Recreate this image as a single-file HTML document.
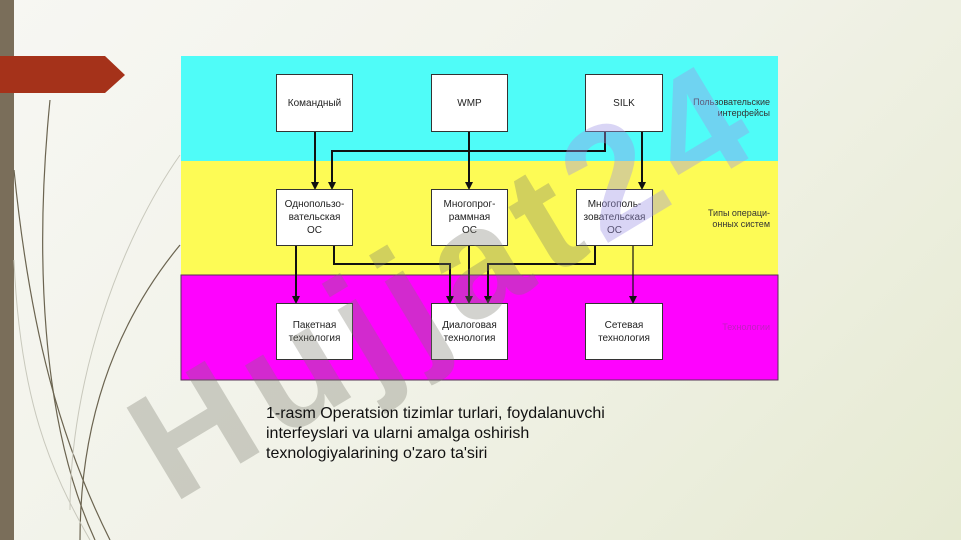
<!DOCTYPE html>
<html style="width:961px;height:540px;overflow:hidden"><head><meta charset="utf-8"><style>
body{margin:0;width:961px;height:540px;overflow:hidden;position:relative;font-family:"Liberation Sans",sans-serif;
background:linear-gradient(135deg,#f7f7f3 0%,#f1f2e8 50%,#e6ead2 100%);}
.b{position:absolute;background:#fff;border:1.5px solid #333;box-sizing:border-box;display:flex;align-items:center;justify-content:center;text-align:center;font-size:10px;line-height:13px;color:#222}
.l{position:absolute;font-size:9px;line-height:11px;text-align:right;color:#333}
</style></head><body>
<div style="position:absolute;left:0;top:0;width:14px;height:540px;background:#7a6e5a"></div>
<svg style="position:absolute;left:0;top:0" width="961" height="540">
<polygon points="0,56 105,56 125,75 105,93 0,93" fill="#a5321a"/>
<g fill="none" stroke="#6b6450" stroke-width="1.2">
<path d="M50,100 C35,250 40,420 95,540"/>
<path d="M14,170 C30,330 60,440 110,540"/>
<path d="M180,245 C110,330 80,430 80,540" />
</g>
<g fill="none" stroke="#c8c8bc" stroke-width="1">
<path d="M180,155 C120,240 70,380 70,510"/>
<path d="M14,260 C20,400 50,470 90,540"/>
</g>
<rect x="181" y="56" width="597" height="105" fill="#4ffcf8"/>
<rect x="181" y="161" width="597" height="114" fill="#fdfb55"/>
<rect x="181" y="275" width="597" height="105" fill="#fe03fe" stroke="#553355" stroke-width="1"/>
<g stroke="#111" stroke-width="2" fill="none">
<path d="M315,132V186"/><path d="M605,132V151H332V186"/><path d="M469,132V186"/><path d="M642,132V186"/>
<path d="M296,245V300"/><path d="M334,245V264H450V300"/><path d="M469,245V300"/><path d="M595,245V264H488V300"/>
<path d="M633,245V300" stroke-width="1.2"/>
</g>
<g fill="#111">
<polygon points="311,182 319,182 315,190"/><polygon points="328,182 336,182 332,190"/><polygon points="465,182 473,182 469,190"/><polygon points="638,182 646,182 642,190"/>
<polygon points="292,296 300,296 296,304"/><polygon points="446,296 454,296 450,304"/><polygon points="465,296 473,296 469,304"/><polygon points="484,296 492,296 488,304"/><polygon points="629,296 637,296 633,304"/>
</g>
</svg>
<div class="b" style="left:276px;top:74px;width:77px;height:58px">Командный</div>
<div class="b" style="left:431px;top:74px;width:77px;height:58px">WMP</div>
<div class="b" style="left:585px;top:74px;width:78px;height:58px">SILK</div>
<div class="b" style="left:276px;top:189px;width:77px;height:57px">Однопользо-<br>вательская<br>ОС</div>
<div class="b" style="left:431px;top:189px;width:77px;height:57px">Многопрог-<br>раммная<br>ОС</div>
<div class="b" style="left:576px;top:189px;width:77px;height:57px">Многополь-<br>зовательская<br>ОС</div>
<div class="b" style="left:276px;top:303px;width:77px;height:57px">Пакетная<br>технология</div>
<div class="b" style="left:431px;top:303px;width:77px;height:57px">Диалоговая<br>технология</div>
<div class="b" style="left:585px;top:303px;width:78px;height:57px">Сетевая<br>технология</div>
<div class="l" style="left:660px;top:97px;width:110px">Пользовательские<br>интерфейсы</div>
<div class="l" style="left:660px;top:208px;width:110px">Типы операци-<br>онных систем</div>
<div class="l" style="left:660px;top:322px;width:110px;color:#c020c0">Технологии</div>
<div style="position:absolute;top:525px;left:185px;font:bold 155px 'Liberation Sans',sans-serif;line-height:1;color:rgba(120,120,110,0.33);transform:rotate(-31deg);transform-origin:0 100%;white-space:nowrap;margin-top:-155px;letter-spacing:12px">Hujjat<span style="color:rgba(160,150,230,0.4)">24</span></div>
<div style="position:absolute;left:266px;top:404px;width:420px;font-size:16px;line-height:20px;color:#111">1-rasm Operatsion tizimlar turlari, foydalanuvchi<br>interfeyslari va ularni amalga oshirish<br>texnologiyalarining o'zaro ta'siri</div>
</body></html>
